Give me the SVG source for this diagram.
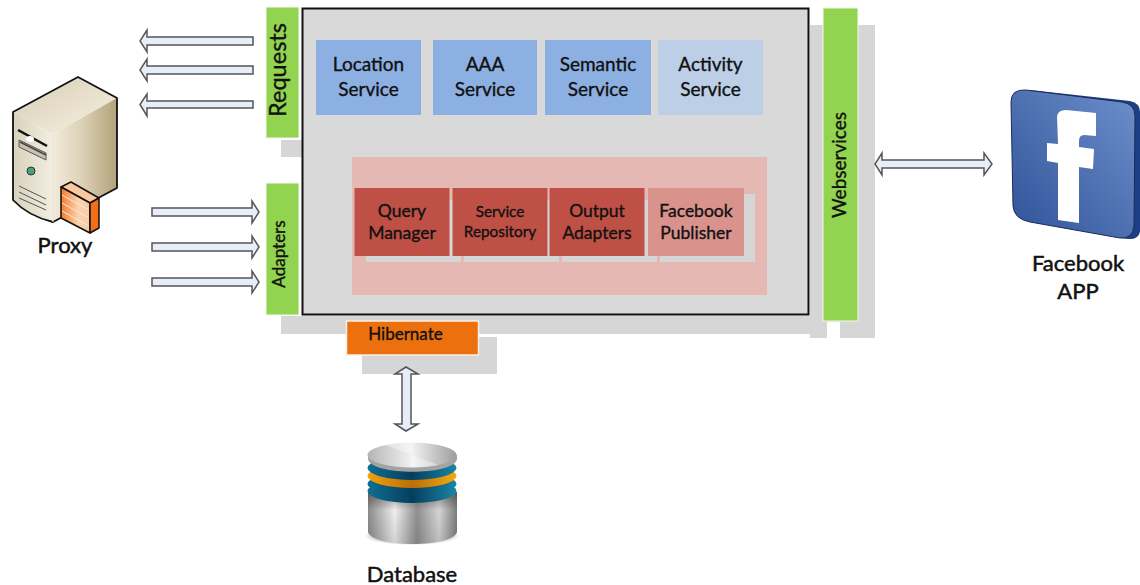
<svg xmlns="http://www.w3.org/2000/svg" width="1140" height="585" viewBox="0 0 1140 585">
<style>
text{font-family:Lato,"Liberation Sans",sans-serif;fill:#111;stroke:#111;stroke-width:.35px;text-anchor:middle}
.sh{fill:#d6d6d6}
.blue{fill:#8db0e2}
.red{fill:#bf5045}
.green{fill:#92d44f;stroke:#f4f8ee;stroke-width:1}
.arr{fill:#e8eef8;stroke:#555;stroke-width:1.5}
.t17{font-size:19px}
.t16{font-size:17.5px}
.t15{font-size:15.3px}
.lab{font-size:22px;stroke-width:.5px}
</style>
<defs>
<linearGradient id="srvTop" x1="0" y1="0" x2="1" y2="1"><stop offset="0" stop-color="#d8cdb4"/><stop offset="1" stop-color="#f6f1e3"/></linearGradient>
<linearGradient id="srvSide" x1="0" y1="0" x2="1" y2="0"><stop offset="0" stop-color="#f1ebdb"/><stop offset="0.45" stop-color="#ddd1b6"/><stop offset="1" stop-color="#b3a27a"/></linearGradient>
<linearGradient id="srvFront" x1="0" y1="0" x2="1" y2="0"><stop offset="0" stop-color="#d9d1bc"/><stop offset="1" stop-color="#f2eee1"/></linearGradient>
<linearGradient id="fw" x1="0" y1="0" x2="1" y2="0"><stop offset="0" stop-color="#f47a2c"/><stop offset="0.6" stop-color="#fbd3b0"/><stop offset="1" stop-color="#f8c9a0"/></linearGradient>
<linearGradient id="fb" x1="0" y1="1" x2="1" y2="0"><stop offset="0" stop-color="#2f5299"/><stop offset="1" stop-color="#6d8fcb"/></linearGradient>
<linearGradient id="cyl" x1="0" y1="0" x2="1" y2="0"><stop offset="0" stop-color="#8a8a8a"/><stop offset="0.3" stop-color="#efefef"/><stop offset="0.55" stop-color="#8f8f8f"/><stop offset="0.8" stop-color="#d5d5d5"/><stop offset="1" stop-color="#7c7c7c"/></linearGradient>
<linearGradient id="cylShade" x1="0" y1="0" x2="0" y2="1"><stop offset="0" stop-color="#333" stop-opacity="0.55"/><stop offset="0.35" stop-color="#333" stop-opacity="0"/><stop offset="1" stop-color="#333" stop-opacity="0.15"/></linearGradient>
<linearGradient id="disc" x1="0" y1="0" x2="1" y2="0"><stop offset="0" stop-color="#b5b5b5"/><stop offset="0.5" stop-color="#f2f2f2"/><stop offset="1" stop-color="#9d9d9d"/></linearGradient>
<linearGradient id="teal" x1="0" y1="0" x2="1" y2="0"><stop offset="0" stop-color="#0e6f94"/><stop offset="0.5" stop-color="#063e5c"/><stop offset="1" stop-color="#1a86a8"/></linearGradient>
<linearGradient id="amber" x1="0" y1="0" x2="1" y2="0"><stop offset="0" stop-color="#f2a20c"/><stop offset="0.5" stop-color="#b86f08"/><stop offset="1" stop-color="#f5ab12"/></linearGradient>
<radialGradient id="dbShadow"><stop offset="0.7" stop-color="#bbb"/><stop offset="1" stop-color="#fff"/></radialGradient>
</defs>

<g id="shadows">
<rect class="sh" x="281" y="140" width="22" height="17"/>
<rect class="sh" x="281" y="316" width="546" height="18"/>
<rect class="sh" x="810" y="25" width="65" height="313"/>
<rect class="sh" x="362" y="337" width="135" height="37"/>
<rect x="827" y="322" width="13" height="18" fill="#fff"/>
</g>

<g id="platform">
<rect x="302.500" y="8.500" width="506" height="306" fill="#d9d9d9" stroke="#111" stroke-width="2"/>
</g>

<g id="requests"><rect class="green" x="266" y="7" width="33" height="131"/>
<text transform="translate(286,70) rotate(-90)" font-size="23.500">Requests</text></g>
<g id="adapters"><rect class="green" x="266" y="183" width="33" height="132"/>
<text transform="translate(285,254) rotate(-90)" font-size="17">Adapters</text></g>
<g id="webservices"><rect class="green" x="823" y="8" width="35" height="313"/>
<text transform="translate(846,165) rotate(-90)" font-size="19">Webservices</text></g>

<g id="location-service"><rect class="blue" x="316" y="40" width="105" height="75"/>
<text class="t17" x="368.500" y="71">Location</text><text class="t17" x="368.500" y="96">Service</text></g>
<g id="aaa-service"><rect class="blue" x="433" y="40" width="104" height="75"/>
<text class="t17" x="485" y="71">AAA</text><text class="t17" x="485" y="96">Service</text></g>
<g id="semantic-service"><rect class="blue" x="545" y="40" width="106" height="75"/>
<text class="t17" x="598" y="71">Semantic</text><text class="t17" x="598" y="96">Service</text></g>
<g id="activity-service"><rect x="658" y="40" width="105" height="75" fill="#bdcfe6"/>
<text class="t17" x="710.500" y="71">Activity</text><text class="t17" x="710.500" y="96">Service</text></g>

<g id="core">
<rect x="352" y="157" width="415" height="138" fill="#e6b8b4"/>
<rect class="sh" x="366" y="200" width="95" height="62"/>
<rect class="sh" x="464" y="200" width="95" height="62"/>
<rect class="sh" x="562" y="200" width="95" height="62"/>
<rect class="sh" x="660" y="194" width="95" height="68"/>
</g>
<g id="query-manager"><rect class="red" x="354.500" y="188" width="95" height="68"/>
<text class="t16" x="402" y="217">Query</text><text class="t16" x="402" y="239">Manager</text></g>
<g id="service-repository"><rect class="red" x="452.500" y="188" width="95" height="68"/>
<text class="t15" x="500" y="217">Service</text><text class="t15" x="500" y="237">Repository</text></g>
<g id="output-adapters"><rect class="red" x="549.500" y="188" width="95" height="68"/>
<text class="t16" x="597" y="217">Output</text><text class="t16" x="597" y="239">Adapters</text></g>
<g id="facebook-publisher"><rect x="648" y="188" width="96" height="68" fill="#d9938c"/>
<text class="t16" x="696" y="217">Facebook</text><text class="t16" x="696" y="239">Publisher</text></g>

<g id="hibernate"><rect x="346.500" y="321" width="132" height="34" fill="#ec700d" stroke="#f8efe6" stroke-width="1.500"/>
<text x="405.500" y="340" font-size="17">Hibernate</text></g>

<g id="connectors">
<polygon class="arr" points="253,37 253,45 147,45 147,52 140,41 147,30 147,37"/>
<polygon class="arr" points="253,66 253,74 147,74 147,81 140,70 147,59 147,66"/>
<polygon class="arr" points="253,101 253,108 147,108 147,116 140,104.500 147,94 147,101"/>
<polygon class="arr" points="152,208 252,208 252,201 259,212 252,223 252,216 152,216"/>
<polygon class="arr" points="152,243 252,243 252,236 259,247 252,258 252,251 152,251"/>
<polygon class="arr" points="152,278 252,278 252,271 259,282 252,293 252,286 152,286"/>
<polygon class="arr" points="882,160 984,160 984,153 992,164 984,175 984,168 882,168 882,175 875,164 882,153"/>
<polygon class="arr" points="402,374 395,374 406,367 418,374 411,374 411,424 418,424 406,431 395,424 402,424"/>
</g>

<g id="proxy">
<path d="M13,112 L78,77 L117,98 L53,134 Z" fill="url(#srvTop)"/>
<path d="M53,134 L117,98 L117,188 L53,222 Z" fill="url(#srvSide)"/>
<path d="M13,112 L53,134 L53,222 Q28,216 13,200 Z" fill="url(#srvFront)"/>
<path d="M13,112 L78,77 L117,98 L117,188 L53,222 Q28,216 13,200 Z" fill="none" stroke="#111" stroke-width="1.800" stroke-linejoin="round"/>
<path d="M53,134 V222" stroke="#e8e3d2" stroke-width="1"/>
<path d="M18,130 L47,146" stroke="#111" stroke-width="2.500"/>
<ellipse cx="30" cy="139" rx="4" ry="3" fill="#fff"/>
<path d="M19,140 L46,153 V160 L19,147 Z" fill="#c9c1ab" stroke="#555" stroke-width="1"/>
<path d="M20,142 L46,155" stroke="#444" stroke-width="1.500"/>
<circle cx="31" cy="171" r="4" fill="#4f9c80" stroke="#23413a"/>
<path d="M19,186 L46,199 M19,192 L46,205 M19,198 L46,210" stroke="#555" stroke-width="1" fill="none"/>
<path d="M61,187 L71,182 L99,198 L90,203 Z" fill="#f9c89c" stroke="#111" stroke-width="1.500" stroke-linejoin="round"/>
<path d="M61,187 L90,203 V233 L61,218 Z" fill="url(#fw)" stroke="#111" stroke-width="1.500" stroke-linejoin="round"/>
<path d="M90,203 L99,198 V228 L90,233 Z" fill="#f26f18" stroke="#111" stroke-width="1.500" stroke-linejoin="round"/>
<path d="M62,195 L89,210 M62,203 L89,218 M62,211 L89,226" stroke="#fde7d4" stroke-width="1" fill="none"/>
<text class="lab" x="65" y="253">Proxy</text>
</g>

<g id="facebook-app">
<path d="M1030,90 L1130,101 Q1140,103 1140,112 L1140,232 Q1138,240 1128,239 L1120,238 Z" fill="#1d3f86"/>
<path d="M1026,90 L1122,102 Q1135,104 1135,116 L1134,226 Q1133,239 1120,238 L1030,222 Q1014,219 1013,206 L1011,102 Q1011,89 1026,90 Z" fill="url(#fb)" stroke="#1a2b55" stroke-width="1"/>
<path d="M1057,116 Q1058,110 1066,110 L1096,113 L1096,136 L1084,135 Q1079,135 1079,141 L1079,147 L1094,149 L1093,169 L1079,167 L1079,223 L1058,220 L1058,163 L1047,161 L1047,143 L1058,144 Z" fill="#fff"/>
<text class="lab" x="1078" y="271">Facebook</text>
<text class="lab" x="1078" y="299">APP</text>
</g>

<g id="database">
<ellipse cx="412" cy="536" rx="48" ry="9" fill="url(#dbShadow)"/>
<path d="M368,492 V532 C372,548 453,548 457,532 V492 Z" fill="url(#cyl)"/>
<path d="M368,492 V532 C372,548 453,548 457,532 V492 Z" fill="url(#cylShade)"/>
<ellipse cx="412" cy="491" rx="44.500" ry="12" fill="url(#teal)"/>
<ellipse cx="412" cy="484" rx="44.500" ry="12" fill="url(#teal)"/>
<ellipse cx="412" cy="476" rx="44.500" ry="12" fill="url(#amber)"/>
<ellipse cx="412" cy="468" rx="44.500" ry="12" fill="url(#teal)"/>
<path d="M368,455 V459 C370,476 455,476 457,459 V455 Z" fill="#a3a3a3"/>
<ellipse cx="412" cy="455" rx="44.500" ry="12.500" fill="url(#disc)"/>
<path d="M412,455 L385,445 Q400,442.500 412,442.500 Z M412,455 L439,465 Q425,467.500 412,467.500 Z" fill="#fff" opacity="0.35"/>
<text class="lab" x="412" y="582">Database</text>
</g>
</svg>
